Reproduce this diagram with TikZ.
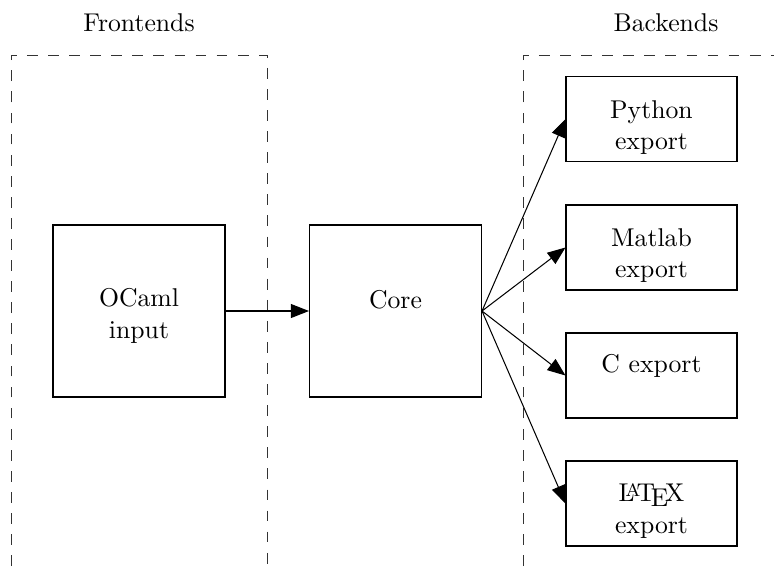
\documentclass[tikz,border=0pt]{standalone}
\usetikzlibrary{arrows.meta}
\begin{document}
\begin{tikzpicture}[x=0.389pt,y=-0.389pt,
  box/.style={draw,line width=0.4pt,rectangle,inner sep=0pt,minimum width=171*0.389pt,minimum height=85*0.389pt},
  bigbox/.style={draw,line width=0.4pt,rectangle,inner sep=0pt,minimum width=172*0.389pt,minimum height=172*0.389pt},
  txt/.style={anchor=base,inner sep=0pt,font=\fontsize{10}{12}\selectfont},
  region/.style={line width=0.35pt,black!80,dash pattern=on 4.2pt off 4pt},
  conn/.style={line width=0.4pt,-{Triangle[length=7pt,width=5.4pt]}}]
\useasboundingbox (0,0) rectangle (774,566);
% regions
\draw[region] (11,566) -- (11,55) -- (267,55) -- (267,566);
\draw[region] (523,566) -- (523,55) -- (774,55);
\node[txt] (lfront) at (139,31) {Frontends};
\node[txt] (lback) at (666,31) {Backends};
% boxes
\node[bigbox] (ocaml) at (139,311) {};
\node[bigbox] (core) at (395.5,311) {};
\node[box] (py) at (651.5,119) {};
\node[box] (ml) at (651.5,247.5) {};
\node[box] (cc) at (651.5,375.5) {};
\node[box] (tex) at (651.5,503.5) {};
% labels
\node[txt] (t1) at (139,306) {OCaml};
\node[txt] (t2) at (139,338) {input};
\node[txt] (t3) at (395.5,308) {Core};
\node[txt] (t4) at (651.5,118) {Python};
\node[txt] (t5) at (651.5,149) {export};
\node[txt] (t6) at (651.5,246) {Matlab};
\node[txt] (t7) at (651.5,277) {export};
\node[txt] (t8) at (651.5,372) {C export};
\node[txt,text depth=0pt] (t9) at (651.5,501) {\LaTeX};
\node[txt] (t10) at (651.5,533) {export};
% connectors
\draw[conn] (ocaml.east) -- (core.west);
\draw[conn] (core.east) -- (py.west);
\draw[conn] (core.east) -- (ml.west);
\draw[conn] (core.east) -- (cc.west);
\draw[conn] (core.east) -- (tex.west);
\end{tikzpicture}
\end{document}
